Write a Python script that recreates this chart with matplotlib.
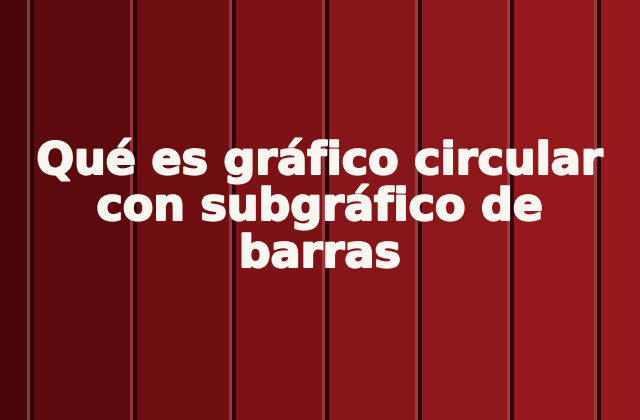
import matplotlib

matplotlib.use("Agg")
import matplotlib.pyplot as plt
import matplotlib.patheffects as pe
from matplotlib.patches import Rectangle

# plank seams (x, px)
SEAM_X = [30, 133, 232, 325, 418, 510, 597]
PLANK_COLORS = [
    "#4a0608", "#5c0a0d", "#6e0e11", "#7c1215",
    "#861619", "#8d181b", "#95191c", "#961a1d",
]
TITLE_LINES = ["Qué es gráfico circular", "con subgráfico de", "barras"]
LINE_BASELINES = [174, 220, 267]

W, H = 640, 420

fig = plt.figure(figsize=(6.4, 4.2), dpi=100)
ax = fig.add_axes([0, 0, 1, 1])
ax.set_xlim(0, W)
ax.set_ylim(H, 0)
ax.axis("off")

edges = [0] + SEAM_X + [W]
for i, color in enumerate(PLANK_COLORS):
    ax.add_patch(Rectangle((edges[i], 0), edges[i + 1] - edges[i], H,
                           color=color, lw=0))

# each seam: a thin light edge then a dark groove
for x in SEAM_X:
    ax.add_patch(Rectangle((x - 3, 0), 3, H, color="#a2414a", lw=0, alpha=0.8))
    ax.add_patch(Rectangle((x, 0), 4, H, color="#2c0305", lw=0))

for line, y in zip(TITLE_LINES, LINE_BASELINES):
    ax.text(W / 2, y, line, ha="center", va="baseline", color="#faf6f2",
            fontsize=32, fontweight="bold", family="DejaVu Sans",
            path_effects=[pe.withStroke(linewidth=1.5, foreground="#faf6f2")])

fig.savefig("out.png", dpi=100)
